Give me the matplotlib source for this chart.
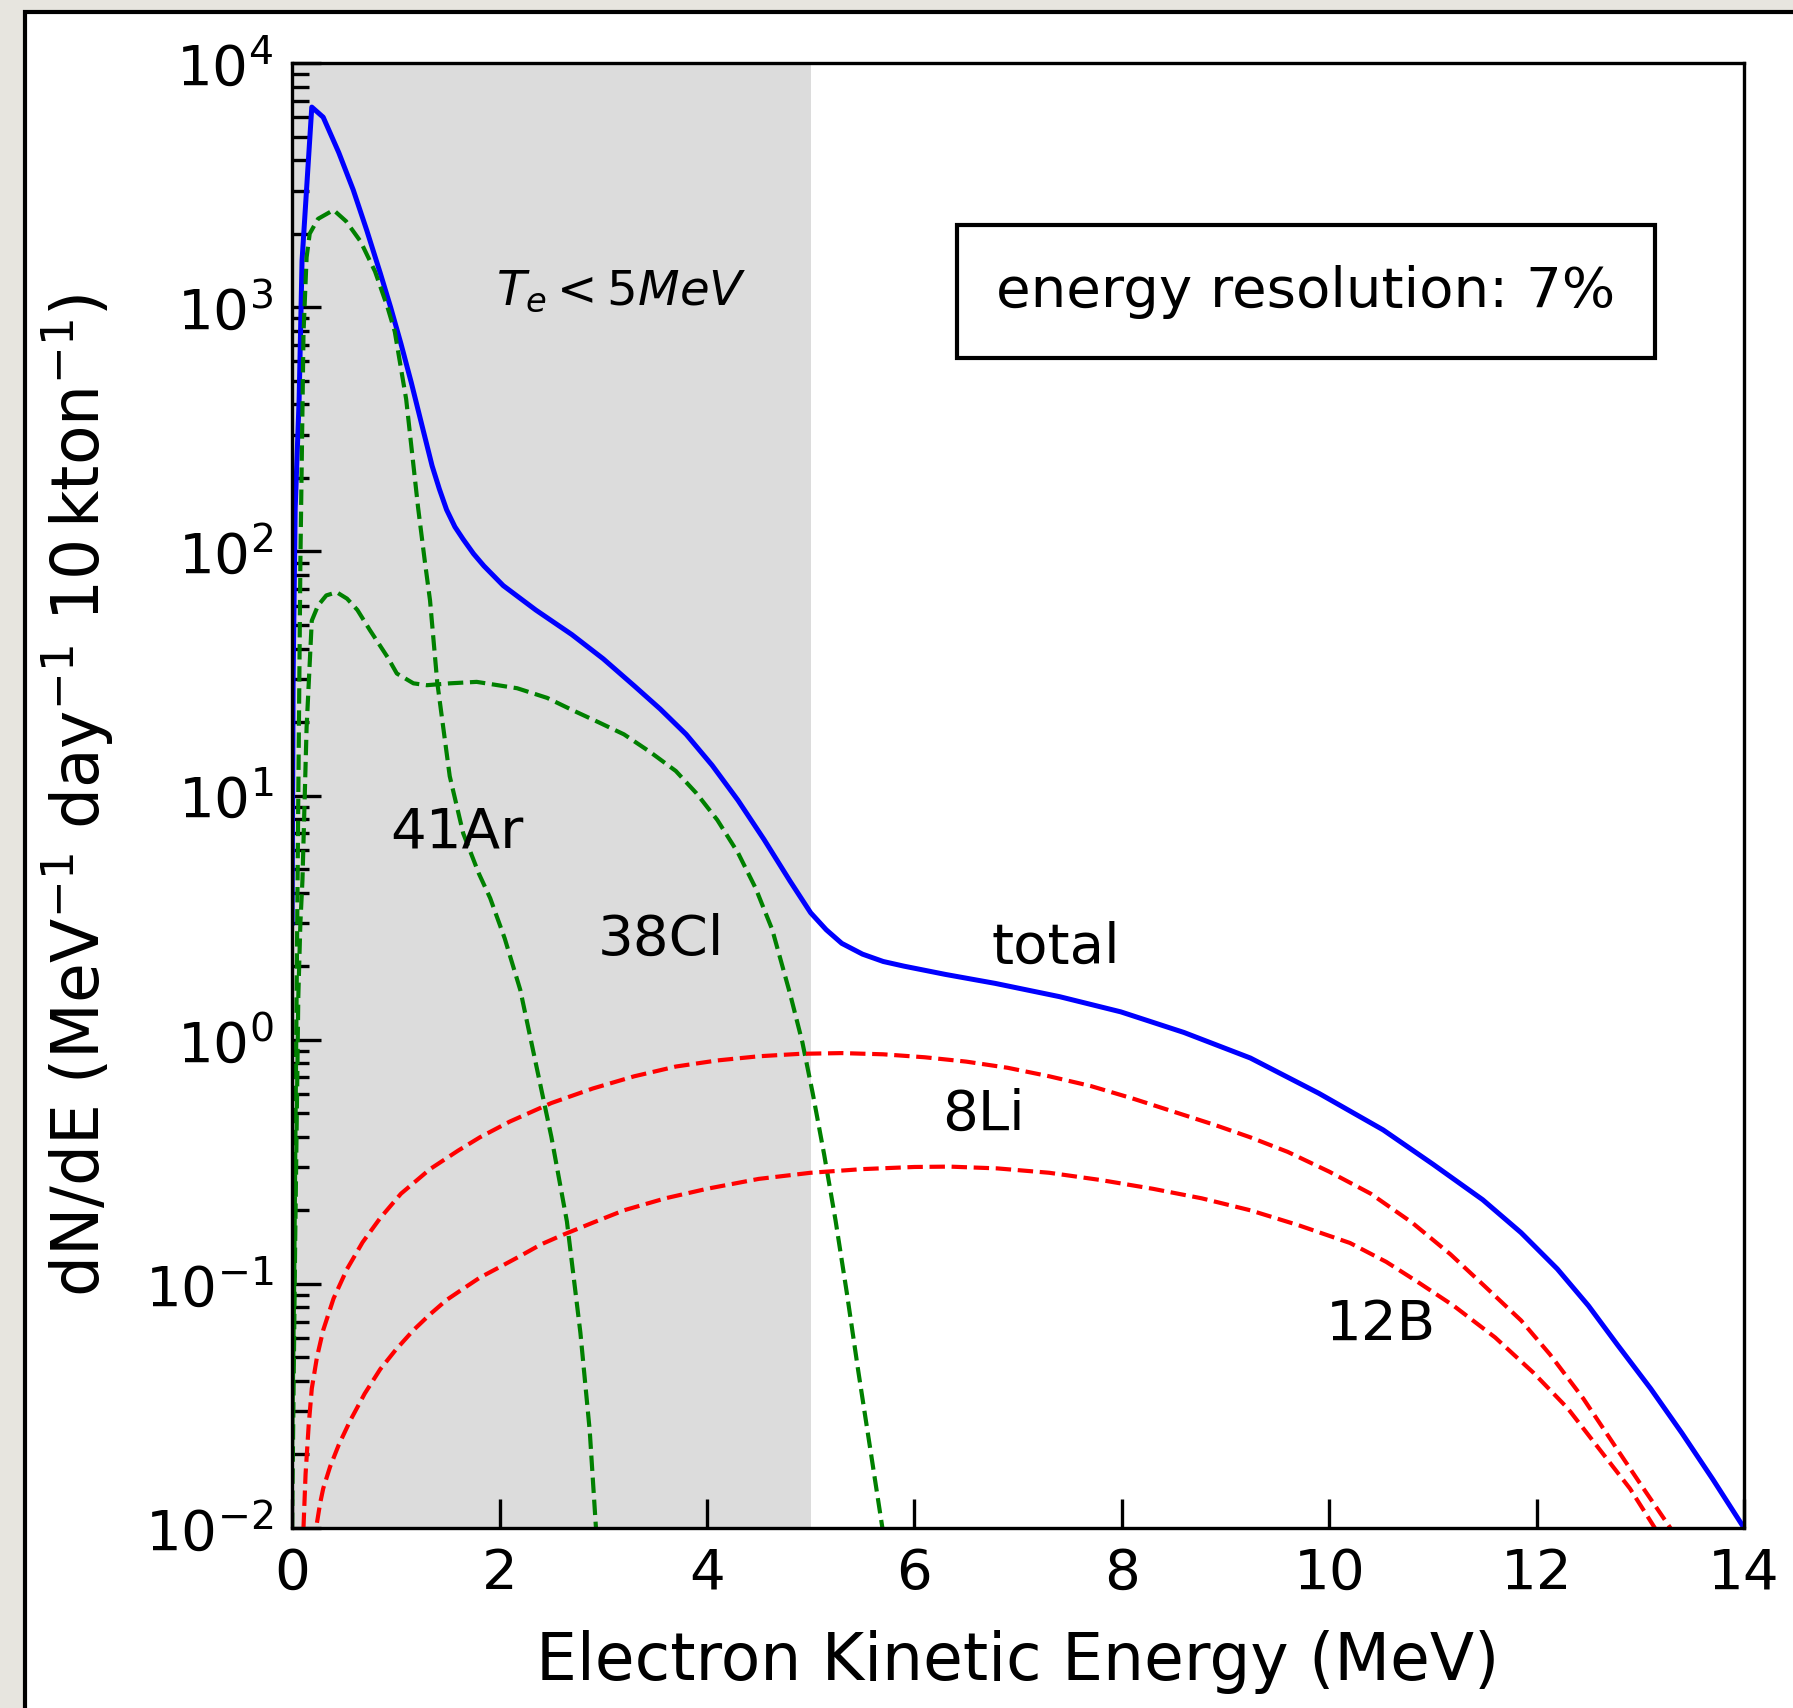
import numpy as np
import matplotlib.pyplot as plt
from matplotlib.patches import Rectangle

# total spectrum
E_total = [0.0, 0.01, 0.03, 0.068, 0.096, 0.19, 0.30, 0.45, 0.59, 0.72, 0.85, 0.95, 1.05,
           1.15, 1.25, 1.35, 1.42, 1.49, 1.57, 1.65, 1.75, 1.85, 2.036, 2.35, 2.698, 3.0,
           3.3, 3.55, 3.8, 4.05, 4.3, 4.55, 4.8, 5.0, 5.15, 5.3, 5.5, 5.7, 5.9, 6.3, 6.78,
           7.4, 7.99, 8.6, 9.24, 9.9, 10.52, 11.0, 11.48, 11.85, 12.2, 12.5, 12.78, 13.1,
           13.4, 13.7, 14.0]
total = [3, 30, 150, 420, 1550, 6600, 6000, 4300, 3020, 2065, 1380, 1000, 708,
         490, 331, 224, 180, 148, 126, 112, 97.7, 87.1, 72.4, 57.5, 45.6, 36.3,
         28.1, 22.6, 17.8, 13.3, 9.55, 6.61, 4.47, 3.31, 2.82, 2.48, 2.24, 2.09, 2.0, 1.85, 1.70,
         1.50, 1.30, 1.07, 0.841, 0.603, 0.427, 0.309, 0.221, 0.162, 0.115, 0.0813, 0.0562,
         0.0372, 0.0245, 0.0158, 0.01]

# 41Ar
E_ar = [0.0, 0.02, 0.04, 0.06, 0.08, 0.11, 0.14, 0.17, 0.25, 0.40, 0.52, 0.66, 0.80,
        0.92, 0.99, 1.10, 1.215, 1.28, 1.33, 1.40, 1.52, 1.65, 1.80, 1.91, 2.05, 2.2,
        2.35, 2.5, 2.65, 2.78, 2.87, 2.93]
ar41 = [0.02, 0.1, 1.0, 10, 90, 780, 1600, 2000, 2300, 2500, 2250, 1860, 1400,
        1000, 795, 420, 151, 91, 63, 29, 12, 7.0, 4.8, 3.8, 2.6, 1.6,
        0.8, 0.4, 0.18, 0.063, 0.025, 0.01]

# 38Cl
E_cl = [0.0, 0.03, 0.06, 0.08, 0.10, 0.14, 0.19, 0.25, 0.33, 0.43, 0.53, 0.63, 0.75,
        0.92, 1.01, 1.17, 1.30, 1.52, 1.78, 2.17, 2.46, 2.70, 2.95, 3.2, 3.45, 3.7,
        3.9, 4.1, 4.3, 4.47, 4.63, 4.80, 4.92, 5.02, 5.13, 5.24, 5.35, 5.46, 5.58, 5.70]
cl38 = [0.01, 0.15, 1.5, 3.0, 4.5, 19, 52, 60, 66, 68, 64, 57.5, 47.6,
        36.9, 31.6, 28.8, 28.3, 28.8, 29.2, 27.5, 25.1, 22.4, 20.0, 17.8, 15.1, 12.6,
        10.2, 7.94, 5.82, 4.17, 2.82, 1.55, 0.977, 0.603, 0.339, 0.182, 0.0912, 0.0437,
        0.0204, 0.0095]

# 8Li
E_li = [0.11, 0.13, 0.16, 0.19, 0.24, 0.30, 0.40, 0.53, 0.68, 0.85, 1.05, 1.33, 1.6,
        1.81, 2.1, 2.5, 2.9, 3.3, 3.7, 4.1, 4.5, 4.9, 5.3, 5.7, 6.1, 6.5, 6.9, 7.3, 7.7,
        8.1, 8.5, 8.9, 9.24, 9.6, 10.0, 10.4, 10.8, 11.17, 11.5, 11.85, 12.13, 12.45,
        12.78, 13.05, 13.34]
li8 = [0.010, 0.0166, 0.0263, 0.0372, 0.0501, 0.0646, 0.0871, 0.115, 0.148, 0.186,
       0.234, 0.295, 0.351, 0.398, 0.462, 0.550, 0.631, 0.708, 0.776, 0.822, 0.855,
       0.875, 0.881, 0.871, 0.847, 0.813, 0.767, 0.708, 0.646, 0.575, 0.507, 0.447,
       0.398, 0.347, 0.288, 0.234, 0.178, 0.132, 0.0977, 0.0708, 0.0513, 0.0339,
       0.0209, 0.0141, 0.0093]

# 12B
E_b = [0.24, 0.27, 0.30, 0.366, 0.45, 0.56, 0.70, 0.85, 1.0, 1.17, 1.33, 1.49, 1.65,
       1.81, 2.0, 2.2, 2.4, 2.6, 2.9, 3.2, 3.6, 4.0, 4.5, 5.0, 5.5, 6.0, 6.34, 6.8, 7.3,
       7.8, 8.3, 8.77, 9.24, 9.7, 10.2, 10.55, 10.85, 11.2, 11.6, 11.97, 12.3, 12.61,
       12.9, 13.14]
b12 = [0.0105, 0.0126, 0.0145, 0.0178, 0.0219, 0.0275, 0.0355, 0.0447, 0.0537, 0.0646,
       0.075, 0.0859, 0.0955, 0.106, 0.117, 0.130, 0.145, 0.158, 0.178, 0.200, 0.224,
       0.245, 0.269, 0.285, 0.295, 0.301, 0.302, 0.297, 0.285, 0.266, 0.245, 0.224,
       0.200, 0.174, 0.147, 0.123, 0.102, 0.0813, 0.0603, 0.0432, 0.0309, 0.0209,
       0.0145, 0.010]

fig = plt.figure(figsize=(1793 / 300, 1708 / 300), dpi=300, facecolor='#e7e5df')
# white page with black frame (screenshot border)
fig.add_artist(Rectangle((25 / 1793, -0.1), 1.2, 1.1 - 12.5 / 1708,
                         transform=fig.transFigure, facecolor='white',
                         edgecolor='black', lw=1.0, zorder=0))

ax = fig.add_axes([0.1629, 0.1054, 0.8098, 0.8577])
ax.axvspan(0, 5, color='#dcdcdc', lw=0, zorder=0)

ax.plot(E_total, total, '-', color='blue', lw=1.2)
ax.plot(E_ar, ar41, '--', color='green', lw=1.0)
ax.plot(E_cl, cl38, '--', color='green', lw=1.0)
ax.plot(E_li, li8, '--', color='red', lw=1.0)
ax.plot(E_b, b12, '--', color='red', lw=1.0)

ax.set_yscale('log')
ax.set_xlim(0, 14)
ax.set_ylim(1e-2, 1e4)
ax.set_xticks(range(0, 15, 2))

ax.tick_params(which='both', direction='in', top=False, right=False, labelsize=13.5)
ax.tick_params(which='major', length=7, width=0.8, pad=4.5)
ax.tick_params(which='minor', length=4, width=0.8)
for s in ax.spines.values():
    s.set_linewidth(0.8)

ax.set_xlabel('Electron Kinetic Energy (MeV)', fontsize=15.5, labelpad=7)
ax.set_ylabel(r'dN/dE (MeV$^{-1}$ day$^{-1}$ 10$\,$kton$^{-1}$)', fontsize=15.5, labelpad=7)

ax.text(1.59, 6.15, '41Ar', fontsize=13.5, ha='center', va='baseline')
ax.text(3.56, 2.22, '38Cl', fontsize=13.5, ha='center', va='baseline')
ax.text(7.36, 2.06, 'total', fontsize=13.5, ha='center', va='baseline')
ax.text(6.67, 0.427, '8Li', fontsize=13.5, ha='center', va='baseline')
ax.text(10.50, 0.059, '12B', fontsize=13.5, ha='center', va='baseline')
ax.text(3.17, 1020, r'$T_e<5MeV$', fontsize=11.6, ha='center', va='baseline')

ax.text(0.698, 0.844, 'energy resolution: 7%', transform=ax.transAxes,
        fontsize=13.5, ha='center', va='center',
        bbox=dict(boxstyle='square,pad=0.7', fc='white', ec='black', lw=1.0))

fig.savefig('out.png', dpi=300, facecolor=fig.get_facecolor())
